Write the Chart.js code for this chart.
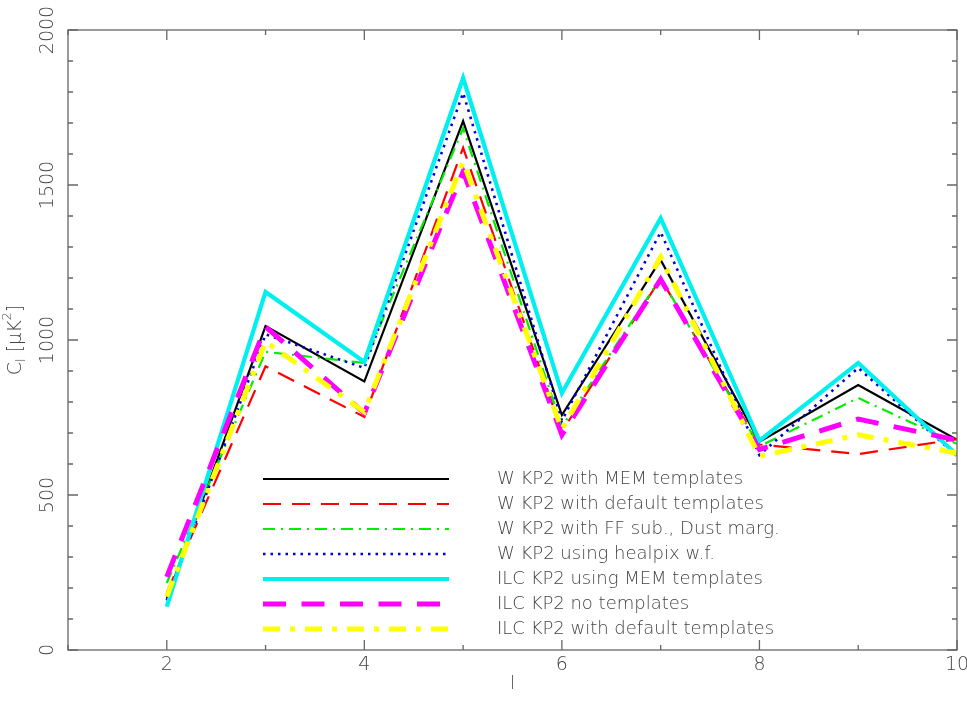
<!DOCTYPE html>
<html>
<head>
<meta charset="utf-8">
<script src="https://cdn.jsdelivr.net/npm/chart.js@4/dist/chart.umd.min.js"></script>
<style>
  html, body { margin: 0; padding: 0; background: #fff; }
  canvas { display: block; }
</style>
</head>
<body>
<canvas id="clChart" width="967" height="712"></canvas>
<script>
// multipole l
const ells = [2, 3, 4, 5, 6, 7, 8, 9, 10];

// C_l [uK^2]
const wMem      = [165, 1045, 866, 1706, 758, 1258, 672, 855, 678];
const wDefault  = [185, 915, 752, 1620, 705, 1198, 663, 632, 680];
const wFfDust   = [216, 962, 926, 1683, 720, 1200, 657, 813, 665];
const wHealpix  = [160, 1018, 910, 1797, 740, 1348, 629, 910, 626];
const ilcMem    = [140, 1155, 929, 1845, 829, 1393, 675, 926, 629];
const ilcNone   = [236, 1043, 764, 1543, 694, 1196, 647, 745, 677];
const ilcDefault = [172, 995, 768, 1575, 712, 1268, 625, 694, 635];

const seriesLabels = [
  "W KP2 with MEM templates",
  "W KP2 with default templates",
  "W KP2 with FF sub., Dust marg.",
  "W KP2 using healpix w.f.",
  "ILC KP2 using MEM templates",
  "ILC KP2 no templates",
  "ILC KP2 with default templates",
];

const xMajorTicks = [2, 4, 6, 8, 10];
const xMinorTicks = [1, 3, 5, 7, 9];
const yMajorTicks = [0, 500, 1000, 1500, 2000];
const yMinorStep = 100;

const FONT = '"DejaVu Sans", sans-serif';
const INK = "#444";

function series(i, data, color, width, dash) {
  return {
    label: seriesLabels[i],
    data: ells.map((x, k) => ({ x: x, y: data[k] })),
    borderColor: color,
    backgroundColor: color,
    borderWidth: width,
    borderDash: dash,
    pointRadius: 0,
    tension: 0,
    fill: false,
    order: 6 - i,
  };
}

const datasets = [
  series(0, wMem, "#000000", 2.2, []),
  series(1, wDefault, "#ff0000", 2.2, [18, 11]),
  series(2, wFfDust, "#00ee00", 2.2, [12, 6, 2, 6]),
  series(3, wHealpix, "#0000dd", 2.6, [2.5, 5]),
  series(4, ilcMem, "#00f0f0", 4.2, []),
  series(5, ilcNone, "#ff00ff", 5, [23, 15.5]),
  series(6, ilcDefault, "#ffff00", 5, [17, 10, 5, 10]),
];

const framePlugin = {
  id: "frame",
  afterDraw(chart) {
    const ctx = chart.ctx;
    const a = chart.chartArea;
    const xs = chart.scales.x;
    const ys = chart.scales.y;

    ctx.save();
    ctx.strokeStyle = "#666";
    ctx.lineWidth = 1.3;
    ctx.strokeRect(a.left, a.top, a.right - a.left, a.bottom - a.top);

    ctx.beginPath();
    xMajorTicks.forEach((v) => {
      const px = xs.getPixelForValue(v);
      ctx.moveTo(px, a.bottom); ctx.lineTo(px, a.bottom - 10);
      ctx.moveTo(px, a.top); ctx.lineTo(px, a.top + 10);
    });
    xMinorTicks.forEach((v) => {
      const px = xs.getPixelForValue(v);
      ctx.moveTo(px, a.bottom); ctx.lineTo(px, a.bottom - 5);
      ctx.moveTo(px, a.top); ctx.lineTo(px, a.top + 5);
    });
    for (let v = 0; v <= 2000; v += yMinorStep) {
      const py = ys.getPixelForValue(v);
      const len = v % 500 === 0 ? 10 : 5;
      ctx.moveTo(a.left, py); ctx.lineTo(a.left + len, py);
      ctx.moveTo(a.right, py); ctx.lineTo(a.right - len, py);
    }
    ctx.stroke();

    // tick labels
    ctx.fillStyle = INK;
    ctx.font = "200 19px " + FONT;
    ctx.textAlign = "center";
    ctx.textBaseline = "middle";
    xMajorTicks.forEach((v) => {
      ctx.fillText(String(v), xs.getPixelForValue(v), a.bottom + 15);
    });
    yMajorTicks.forEach((v) => {
      ctx.save();
      ctx.translate(a.left - 20, ys.getPixelForValue(v));
      ctx.rotate(-Math.PI / 2);
      ctx.fillText(String(v), 0, 0);
      ctx.restore();
    });

    // axis titles
    ctx.font = "200 18px " + FONT;
    ctx.fillText("l", (a.left + a.right) / 2, a.bottom + 34);

    ctx.save();
    ctx.translate(16, (a.top + a.bottom) / 2);
    ctx.rotate(-Math.PI / 2);
    ctx.textAlign = "left";
    const parts = [
      { t: "C", size: 19, dy: 0 },
      { t: "l", size: 13, dy: 6 },
      { t: " [\u03bcK", size: 19, dy: 0 },
      { t: "2", size: 13, dy: -8 },
      { t: "]", size: 19, dy: 0 },
    ];
    let total = 0;
    parts.forEach((p) => {
      ctx.font = "200 " + p.size + "px " + FONT;
      p.w = ctx.measureText(p.t).width;
      total += p.w;
    });
    let cx = -total / 2;
    parts.forEach((p) => {
      ctx.font = "200 " + p.size + "px " + FONT;
      ctx.fillText(p.t, cx, p.dy);
      cx += p.w;
    });
    ctx.restore();

    // legend inside the plot
    const lx0 = a.left + 195;
    const lx1 = lx0 + 186;
    const ly0 = a.top + 449;
    chart.data.datasets.forEach((ds, i) => {
      const y = ly0 + i * 25;
      ctx.save();
      ctx.strokeStyle = ds.borderColor;
      ctx.lineWidth = ds.borderWidth;
      ctx.setLineDash(ds.borderDash);
      ctx.beginPath();
      ctx.moveTo(lx0, y);
      ctx.lineTo(lx1, y);
      ctx.stroke();
      ctx.restore();
      ctx.fillStyle = INK;
      ctx.font = "200 18px " + FONT;
      ctx.textAlign = "left";
      ctx.textBaseline = "middle";
      ctx.fillText(ds.label, lx1 + 48, y);
    });
    ctx.restore();
  },
};

new Chart(document.getElementById("clChart"), {
  type: "line",
  data: { datasets: datasets },
  options: {
    responsive: false,
    animation: false,
    events: [],
    layout: { padding: { left: 68, right: 10, top: 30, bottom: 62 } },
    plugins: {
      legend: { display: false },
      tooltip: { enabled: false },
    },
    scales: {
      x: {
        type: "linear",
        display: false,
        min: 1,
        max: 10,
      },
      y: {
        type: "linear",
        display: false,
        min: 0,
        max: 2000,
      },
    },
  },
  plugins: [framePlugin],
});
</script>
</body>
</html>
